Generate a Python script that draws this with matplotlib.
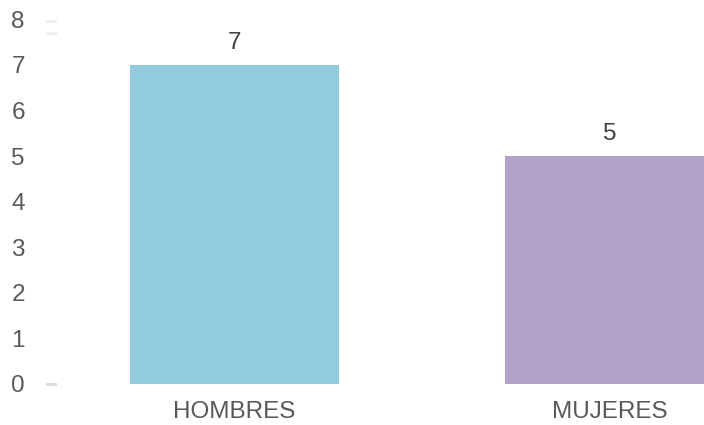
import matplotlib
matplotlib.use("Agg")
import matplotlib.pyplot as plt

categories = ["HOMBRES", "MUJERES"]
values = [7, 5]
colors = ["#92CBDC", "#B3A2C8"]
yticks = [0, 1, 2, 3, 4, 5, 6, 7, 8]

plt.rcParams["font.family"] = ["Liberation Sans", "DejaVu Sans"]

fig = plt.figure(figsize=(7.04, 4.25), dpi=100)
ax = fig.add_axes([47 / 704, 1 - 384 / 425, 1 - 47 / 704, (384 - 19.4) / 425])

x = list(range(len(categories)))
bars = ax.bar(x, values, width=0.557, color=colors)

for xi, v in zip(x, values):
    ax.annotate(str(v), (xi, v), xytext=(0, 8), textcoords="offset points",
                ha="center", va="bottom", fontsize=17.5, color="#404040")

ax.set_xlim(-0.5, 1.252)
ax.set_ylim(0, 8)
ax.set_yticks(yticks)
ax.set_yticklabels([str(t) for t in yticks])
ax.set_xticks(x)
ax.set_xticklabels(categories)

for s in ax.spines.values():
    s.set_visible(False)

ax.tick_params(axis="y", length=0, pad=16, labelsize=17.5, labelcolor="#595959")
ax.tick_params(axis="x", length=0, pad=12, labelsize=17.5, labelcolor="#595959")

# faint marks on the value axis
ax.plot([-0.5, -0.48], [0, 0], color="#D9D9D9", lw=2, clip_on=False)
for yv in (7.97, 7.7):
    ax.plot([-0.5, -0.48], [yv, yv], color="#EEEEEE", lw=2, clip_on=False)

fig.savefig("out.png", dpi=100, facecolor="white")
